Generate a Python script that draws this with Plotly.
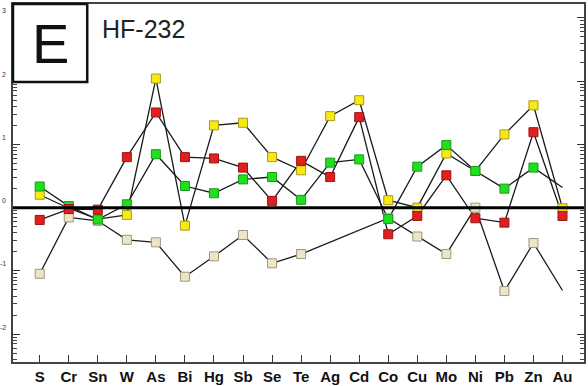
import plotly.graph_objects as go

elements = ["S", "Cr", "Sn", "W", "As", "Bi", "Hg", "Sb", "Se", "Te",
            "Ag", "Cd", "Co", "Cu", "Mo", "Ni", "Pb", "Zn", "Au"]

yellow_vals = [1.60, 0.98, 0.66, 0.77, 110, 0.52, 20, 22, 6.3, 3.9,
               28, 50, 1.31, 1.0, 7.2, 3.8, 14.4, 41.5, 0.98]
red_vals = [0.64, 0.95, 0.93, 6.3, 32, 6.3, 6.0, 4.3, 1.28, 5.5,
            3.05, 27, 0.38, 0.74, 3.25, 0.68, 0.58, 15.6, 0.74]
green_vals = [2.16, 1.06, 0.65, 1.13, 7.0, 2.2, 1.69, 2.8, 3.05, 1.33,
              5.15, 5.8, 0.66, 4.45, 9.75, 3.8, 2.0, 4.3, 2.08]
beige_vals = [0.090, 0.70, 0.62, 0.31, 0.283, 0.081, 0.17, 0.37, 0.132, 0.185,
              None, None, 0.68, 0.35, 0.185, 1.0, 0.048, 0.276, 0.049]

exponents = [-2, -1, 0, 1, 2, 3]

series = [
    ("beige", beige_vals, "#ece5c6", "#9d977f", False),
    ("yellow", yellow_vals, "#f6ea10", "#a69a1a", True),
    ("green", green_vals, "#1fe01f", "#169a16", False),
    ("red", red_vals, "#e0201e", "#9c1414", True),
]

x_idx = list(range(len(elements)))

fig = go.Figure()

# lines first
for name, vals, fill, edge, last_marker in series:
    fig.add_trace(go.Scatter(
        x=x_idx, y=vals, mode="lines", connectgaps=True,
        line=dict(color="#1a1a1a", width=1.3), showlegend=False, hoverinfo="skip"))

# markers on top
for name, vals, fill, edge, last_marker in series:
    mv = list(vals) if last_marker else list(vals[:-1]) + [None]
    fig.add_trace(go.Scatter(
        x=x_idx, y=mv, mode="markers", name=name,
        marker=dict(symbol="square", size=9, color=fill,
                    line=dict(color=edge, width=1)),
        showlegend=False))

# reference line at 1
fig.add_hline(y=1, line=dict(color="black", width=3))

# minor log ticks
minor_vals = []
for e in range(-3, 4):
    for m in range(2, 10):
        minor_vals.append(m * 10 ** e)

fig.update_xaxes(
    range=[-0.92, 18.74], automargin=False,
    tickmode="array", tickvals=x_idx, ticktext=elements,
    ticks="inside", ticklen=7, tickwidth=1, tickcolor="#333",
    tickfont=dict(family="Liberation Sans, Arial", size=15, color="#111", weight="bold"),
    showline=True, linecolor="#444", linewidth=1.5, mirror=True,
    showgrid=False, zeroline=False, ticklabelstandoff=0,
)
fig.update_yaxes(
    type="log", range=[-2.44, 3.22], automargin=False,
    tickmode="array", tickvals=[10 ** e for e in exponents], ticktext=["" for e in exponents],
    ticks="inside", ticklen=7, tickwidth=1, tickcolor="#333",
    minor=dict(tickmode="array", tickvals=minor_vals, ticks="inside", ticklen=4,
               tickwidth=1, tickcolor="#444"),
    showline=True, linecolor="#444", linewidth=1.5, mirror="allticks",
    showgrid=False, zeroline=False,
)

# truncated exponent labels at left edge
for e in exponents:
    fig.add_annotation(x=0, xref="paper", y=e, yref="y", text=str(e),
                       showarrow=False, xanchor="right", xshift=-5, yshift=7,
                       font=dict(family="Liberation Sans, Arial", size=7, color="#333"))

# panel letter box
fig.add_shape(type="rect", xref="paper", yref="paper",
              x0=0, x1=0.13, y0=0.782, y1=1,
              line=dict(color="#111", width=2.5), fillcolor="white", layer="above")
fig.add_annotation(x=0.065, xref="paper", y=0.891, yref="paper", text="E",
                   showarrow=False, xanchor="center", yanchor="middle",
                   font=dict(family="Liberation Sans, Arial", size=56, color="#111"))
fig.add_annotation(x=0.152, xref="paper", y=0.93, yref="paper", text="HF-232",
                   showarrow=False, xanchor="left", yanchor="middle",
                   font=dict(family="Liberation Sans, Arial", size=25, color="#222"))

fig.update_layout(
    width=588, height=386,
    margin=dict(l=13, r=4, t=4, b=24),
    paper_bgcolor="white", plot_bgcolor="white",
)

fig.write_html("out.html")
